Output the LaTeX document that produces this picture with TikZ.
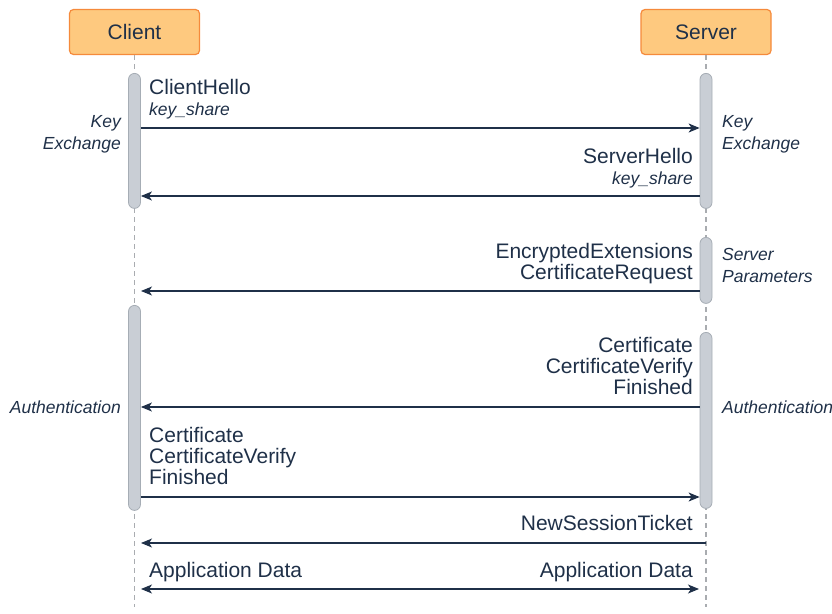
\documentclass[tikz,border=0pt]{standalone}
\usepackage{fontspec}
\setmainfont{Liberation Sans}
\usetikzlibrary{arrows.meta, positioning}
\definecolor{inkblue}{HTML}{1F3048}
\definecolor{actorfill}{HTML}{FEC97F}
\definecolor{actorline}{HTML}{F58A3B}
\definecolor{barfill}{HTML}{C9CED5}
\definecolor{barline}{HTML}{A6ADB5}
\definecolor{lifegray}{HTML}{A9ACB0}
\newcommand{\keyfont}{\fontsize{17.5}{21}\selectfont\itshape}
\tikzset{
  actor/.style={rectangle, rounded corners=4pt, draw=actorline, fill=actorfill, line width=1.2pt,
              minimum width=130pt, minimum height=45pt, text=inkblue, font=\fontsize{21}{24}\selectfont},
  bar/.style={rectangle, rounded corners=6pt, draw=barline, fill=barfill, line width=0.8pt,
              minimum width=12pt, inner sep=0pt},
  life/.style={draw=lifegray, line width=1.2pt, dash pattern=on 5pt off 4pt},
  msg/.style={-{Stealth[length=11pt, width=9pt, inset=3pt]}, line width=1.1pt, draw=inkblue},
  msgboth/.style={{Stealth[length=11pt, width=9pt, inset=3pt]}-{Stealth[length=11pt, width=9pt, inset=3pt]},
              line width=1.1pt, draw=inkblue},
  lbl/.style={inner sep=0pt, text=inkblue, font=\fontsize{21}{21}\selectfont},
  phase/.style={inner sep=0pt, text=inkblue, font=\fontsize{17.5}{22}\selectfont\itshape},
}
\begin{document}
\begin{tikzpicture}[x=1pt, y=-1pt]
    \useasboundingbox (0,0) rectangle (832,613);
    \node[actor] (client) at (134.5,32) {Client};
    \node[actor] (server) at (706,32) {Server};

    % lifelines
    \coordinate (cbot) at (134.5,607);
    \coordinate (sbot) at (706,607);
    \draw[life] (client.south) -- (cbot);
    \draw[life] (server.south) -- (sbot);

    % activation bars
    \node[bar, anchor=north, minimum height=135pt] (cb1) at (134.5,73) {};
    \node[bar, anchor=north, minimum height=135pt] (sb1) at (706,73) {};
    \node[bar, anchor=north, minimum height=66pt] (sb2) at (706,237) {};
    \node[bar, anchor=north, minimum height=205pt] (cb2) at (134.5,305) {};
    \node[bar, anchor=north, minimum height=176pt] (sb3) at (706,332) {};

    % free ends on the lifelines
    \coordinate (c3) at (141,291);
    \coordinate (s6) at (706,543);
    \coordinate (c6) at (141,543);
    \coordinate (c7) at (141,589);
    \coordinate (s7) at (699,589);

    % messages
    \draw[msg] (cb1.east |- 0,128) -- (sb1.west |- 0,128);
    \draw[msg] (sb1.west |- 0,196) -- (cb1.east |- 0,196);
    \draw[msg] (sb2.west |- 0,291) -- (c3);
    \draw[msg] (sb3.west |- 0,407) -- (cb2.east |- 0,407);
    \draw[msg] (cb2.east |- 0,497) -- (sb3.west |- 0,497);
    \draw[msg] (s6) -- (c6);
    \draw[msgboth] (c7) -- (s7);

    % message labels
    \node[lbl, align=left, anchor=base west] (m1) at (149,115) {ClientHello\\{\keyfont key\_share}};
    \node[lbl, align=right, anchor=base east] (m2) at (693,184) {ServerHello\\{\keyfont key\_share}};
    \node[lbl, align=right, anchor=base east] (m3) at (693,279) {EncryptedExtensions\\CertificateRequest};
    \node[lbl, align=right, anchor=base east] (m4) at (693,394) {Certificate\\CertificateVerify\\Finished};
    \node[lbl, align=left, anchor=base west] (m5) at (149,484) {Certificate\\CertificateVerify\\Finished};
    \node[lbl, anchor=base east] (m6) at (693,530) {NewSessionTicket};
    \node[lbl, anchor=base west] (m7a) at (149,577) {Application Data};
    \node[lbl, anchor=base east] (m7b) at (693,577) {Application Data};

    % phases
    \node[phase, align=right, anchor=base east] (kec) at (121,149) {Key\\Exchange};
    \node[phase, align=left, anchor=base west] (kes) at (722,149) {Key\\Exchange};
    \node[phase, align=left, anchor=base west] (sp) at (722,282) {Server\\Parameters};
    \node[phase, anchor=base east] (auc) at (121,413) {Authentication};
    \node[phase, anchor=base west] (aus) at (722,413) {Authentication};
\end{tikzpicture}
\end{document}
